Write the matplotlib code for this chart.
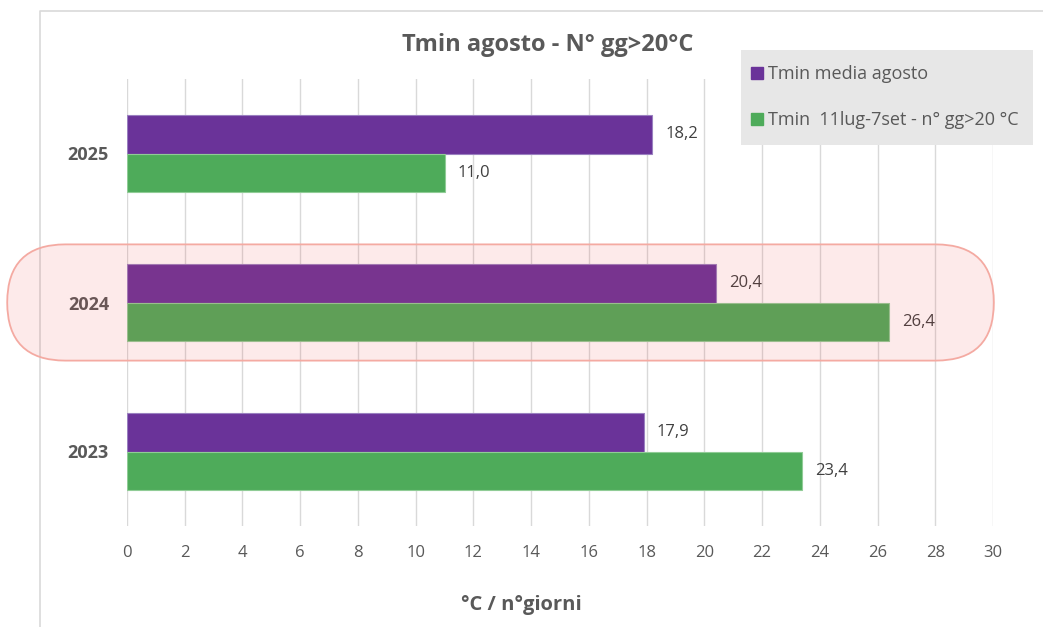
import matplotlib
matplotlib.use('Agg')
import matplotlib.pyplot as plt
from matplotlib.patches import FancyBboxPatch, Rectangle
from matplotlib.lines import Line2D
from matplotlib.transforms import IdentityTransform

# dati: Tmin media di agosto e n° giorni con Tmin > 20 °C
anni = ['2023', '2024', '2025']
tmin_media = [17.9, 20.4, 18.2]
giorni_20 = [23.4, 26.4, 11.0]
serie = ['Tmin media agosto', 'Tmin  11lug-7set - n° gg>20 °C']
tick_x = list(range(0, 31, 2))

viola = '#6a3399'
verde = '#4eab5a'
grigio = '#595959'

plt.rcParams['font.family'] = ['Open Sans', 'DejaVu Sans']

fig = plt.figure(figsize=(10.43, 6.27), dpi=100)
ax = fig.add_axes([127 / 1043, 1 - 526 / 627, 866 / 1043, 447 / 627])

h = 0.26
pos = list(range(len(anni)))
ax.barh([p + h / 2 for p in pos], tmin_media, height=h, color=viola,
        edgecolor='#9a80c0', linewidth=0.8, zorder=2)
ax.barh([p - h / 2 for p in pos], giorni_20, height=h, color=verde,
        edgecolor='#90cc96', linewidth=0.8, zorder=2)

# etichette con i valori a destra delle barre
for p, v in zip(pos, tmin_media):
    ax.annotate(f'{v:.1f}'.replace('.', ','), xy=(v, p + h / 2), xytext=(13, 0),
                textcoords='offset pixels', va='center', ha='left',
                fontsize=12, color='#404040')
for p, v in zip(pos, giorni_20):
    ax.annotate(f'{v:.1f}'.replace('.', ','), xy=(v, p - h / 2), xytext=(13, 0),
                textcoords='offset pixels', va='center', ha='left',
                fontsize=12, color='#404040')

ax.set_xlim(0, 30)
ax.set_ylim(-0.5, 2.5)
ax.set_xticks(tick_x)
ax.set_yticks(pos)
ax.set_yticklabels(anni, fontweight='bold')
ax.tick_params(axis='x', length=0, pad=14, labelsize=12, labelcolor=grigio)
ax.tick_params(axis='y', length=0, pad=13, labelsize=13, labelcolor=grigio)
ax.xaxis.grid(True, color='#d9d9d9', linewidth=1, zorder=0)
ax.set_axisbelow(True)
for s in ax.spines.values():
    s.set_visible(False)

# cornice esterna del grafico
fig.add_artist(Line2D([40 / 1043, 40 / 1043, 1.0], [0, 1 - 11 / 627, 1 - 11 / 627],
                      transform=fig.transFigure, color='#d9d9d9', linewidth=1.2))

fig.text(548 / 1043, 1 - 45 / 627, 'Tmin agosto - N° gg>20°C', ha='center', va='center',
         fontsize=17, fontweight='bold', color=grigio)
fig.text(521 / 1043, 1 - 605 / 627, '°C / n°giorni', ha='center', va='center',
         fontsize=14.5, fontweight='bold', color=grigio)

# evidenzia l'anno 2024
fig.canvas.draw()
x0, y0 = ax.transData.transform((-4.15, 1 - 0.39))
x1, y1 = ax.transData.transform((30.03, 1 + 0.39))
evid = FancyBboxPatch((x0, y0), x1 - x0, y1 - y0,
                      boxstyle=f'round,pad=0,rounding_size={(y1 - y0) / 2}',
                      transform=IdentityTransform(), facecolor=(0.94, 0.27, 0.27, 0.11),
                      edgecolor='#f4aaa2', linewidth=1.3, zorder=3)
fig.add_artist(evid)

# legenda su riquadro grigio
fig.add_artist(Rectangle((741 / 1043, 1 - 145 / 627), 292 / 1043, 95 / 627,
                         transform=fig.transFigure, facecolor='#e7e7e7',
                         edgecolor='none', zorder=4))
handles = [Line2D([], [], marker='s', linestyle='none', markersize=8, color=viola),
           Line2D([], [], marker='s', linestyle='none', markersize=8, color=verde)]
leg = fig.legend(handles, serie, loc='upper left', bbox_to_anchor=(751 / 1043, 1 - 65 / 627),
                 frameon=False, fontsize=13, labelcolor=grigio, handlelength=0.65,
                 handletextpad=0.3, labelspacing=1.55, borderpad=0, borderaxespad=0)
leg.set_zorder(5)

fig.savefig('out.png', dpi=100)
